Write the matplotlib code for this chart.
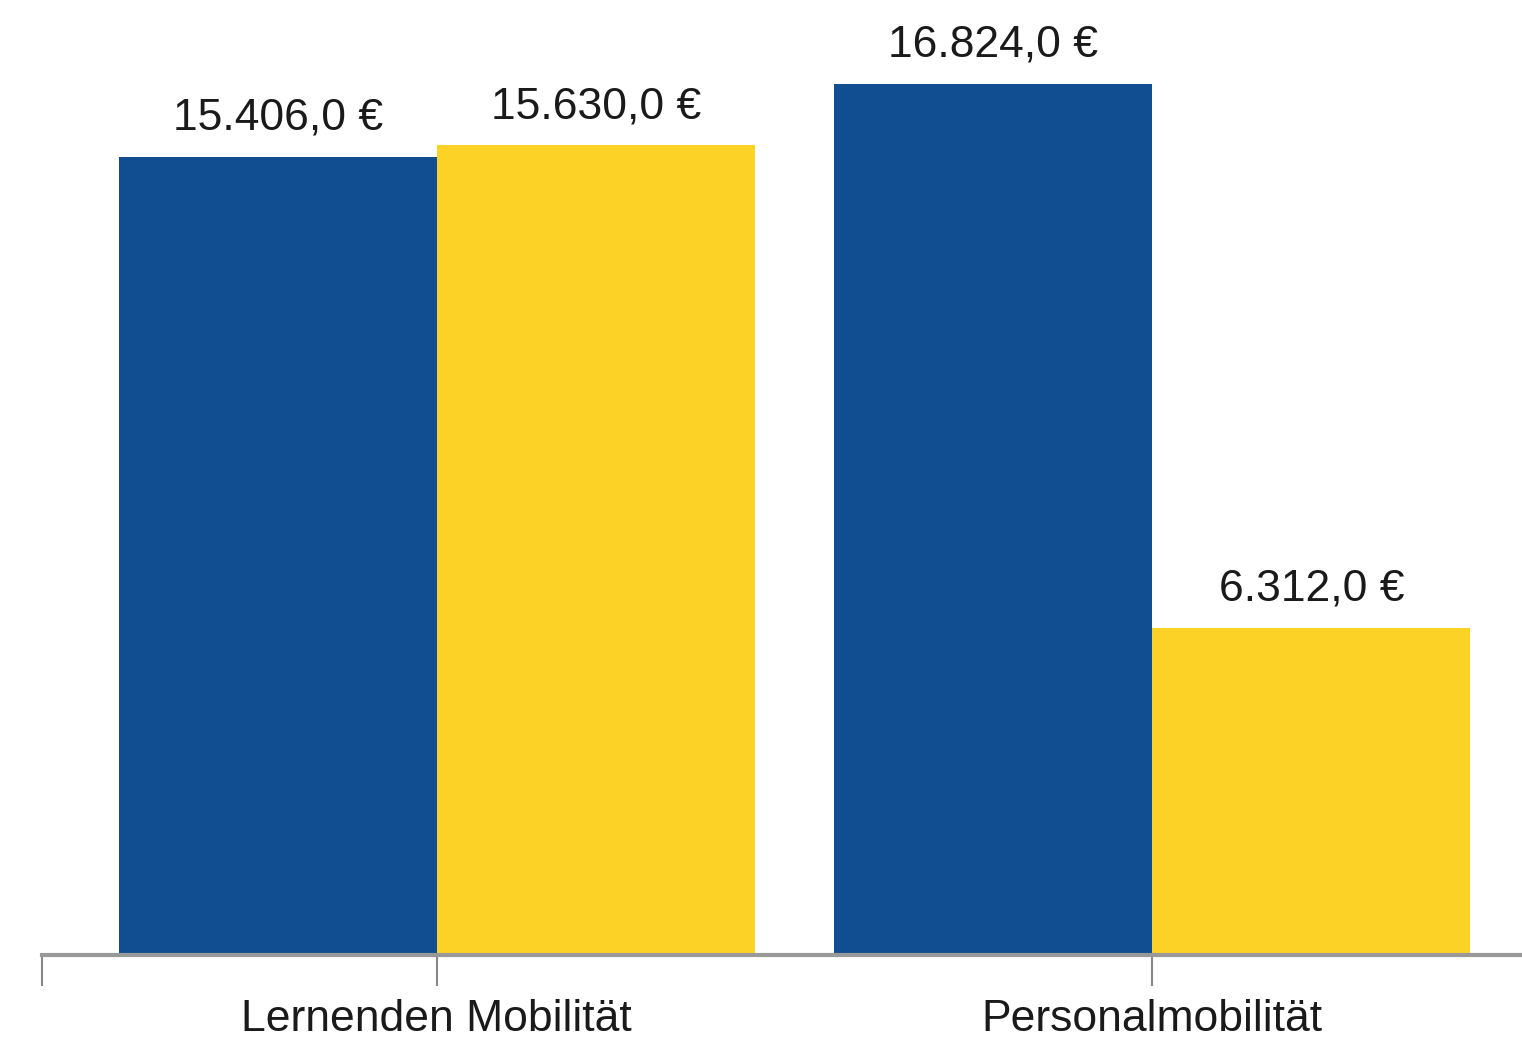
import matplotlib.pyplot as plt
import numpy as np

categories = ["Lernenden Mobilität", "Personalmobilität"]
series_blue = [15406.0, 16824.0]
series_yellow = [15630.0, 6312.0]

BLUE = "#114e91"
YELLOW = "#fdd226"


def fmt_eur(v):
    s = f"{v:,.1f}".replace(",", "X").replace(".", ",").replace("X", ".")
    return s + " €"


fig = plt.figure(figsize=(15.22, 10.51), dpi=100)
ax = fig.add_axes([42 / 1522, 96 / 1051, 1480 / 1522, 955 / 1051])

x = np.arange(len(categories))
w = 0.445
b1 = ax.bar(x - w / 2, series_blue, width=w, color=BLUE)
b2 = ax.bar(x + w / 2, series_yellow, width=w, color=YELLOW)

for bars in (b1, b2):
    for rect in bars:
        h = rect.get_height()
        ax.annotate(fmt_eur(h), (rect.get_x() + rect.get_width() / 2, h),
                    xytext=(0, 13), textcoords="offset points",
                    ha="center", va="bottom", fontsize=32,
                    family="Liberation Sans", color="#1a1a1a")

xmin = -0.552
ax.set_xlim(xmin, 1.517)
ax.set_ylim(0, 18436)
ax.set_xticks([xmin, 0, 1])
ax.set_xticklabels(["", categories[0], categories[1]], fontsize=32,
                   family="Liberation Sans", color="#1a1a1a")
ax.tick_params(axis="x", length=22, width=1.5, color="#888888", pad=10)
ax.set_yticks([])
for side in ("top", "right", "left"):
    ax.spines[side].set_visible(False)
ax.spines["bottom"].set_color("#999999")
ax.spines["bottom"].set_linewidth(3)

fig.savefig("out.png", dpi=100, facecolor="white")
